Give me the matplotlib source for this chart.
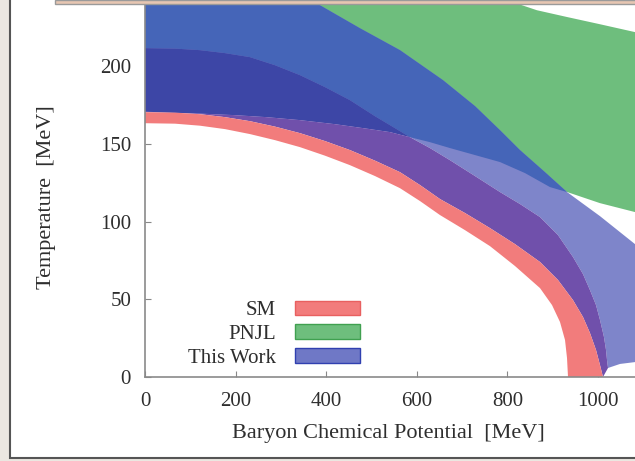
import matplotlib
matplotlib.use("Agg")
import matplotlib.pyplot as plt
from matplotlib.patches import Patch, Rectangle

# ---- data (mu in MeV, T in MeV) ----
# SM band
sm_up_mu = [0, 66.2, 121.4, 176.6, 231.8, 287.0, 342.2, 397.4, 452.5, 507.7, 562.9, 607.1,
            651.2, 706.4, 761.6, 816.8, 872.0, 911.7, 944.8, 966.9, 982.3, 995.6, 1004.4, 1011.0]
sm_up_T = [170.4, 170.1, 169.1, 167.2, 164.6, 161.1, 156.9, 151.8, 146.0, 139.2, 131.8, 123.5,
           114.5, 105.5, 95.8, 85.5, 74.0, 62.4, 49.5, 38.6, 28.3, 17.4, 7.7, 0]
sm_lo_mu = [0, 66.2, 121.4, 176.6, 231.8, 287.0, 342.2, 397.4, 452.5, 507.7, 562.9, 607.1,
            651.2, 706.4, 761.6, 816.8, 872.0, 898.5, 916.1, 927.2, 931.6, 933.8]
sm_lo_T = [163.3, 163.0, 161.7, 159.5, 156.3, 152.4, 147.9, 142.4, 136.3, 129.3, 121.5, 113.2,
           104.2, 94.5, 84.2, 71.4, 57.2, 46.3, 35.4, 23.8, 12.2, 0]

# PNJL band
pnjl_mu = [300, 600, 865, 932, 1004, 1082, 1100]
pnjl_lo = [200, 170, 126, 119, 111.9, 106.1, 105]
pnjl_hi = [290, 262, 236, 231.6, 227, 221.9, 220.7]

# This Work: upper edge of the whole band
tw_hi_mu = [0, 300, 386.3, 474.6, 562.9, 657.8, 728.5, 783.7, 827.8, 883.0, 931.6, 1004.4,
            1081.7, 1100]
tw_hi_T = [280, 250, 239.2, 224.4, 210.3, 191.0, 174.3, 158.8, 146.0, 131.8, 119.0, 103.5,
           85.5, 83.5]
# lower edge of the band (just above SM), then along the bottom
tw_lo_mu = [0, 121.4, 198.7, 269.3, 342.2, 419.4, 490.1, 540.8, 585.0, 629.1, 673.3, 728.5,
            783.7, 827.8, 872.0, 911.7, 944.8, 966.9, 982.3, 995.6, 1004.4, 1013.2, 1017.7,
            1019.9, 1022.1, 1048.6, 1081.7, 1100]
tw_lo_T = [170.7, 169.5, 168.5, 167.2, 165.3, 162.7, 159.8, 157.6, 154.3, 147.3, 139.5, 129.3,
           119.0, 111.3, 102.9, 91.3, 77.2, 66.2, 55.9, 46.3, 36.7, 25.7, 17.4,
           10.9, 5.8, 8.4, 9.6, 10]
# inner (overlapping) bands
tw_dark_top_mu = [0, 66.2, 121.4, 176.6, 231.8, 287.0, 342.2, 397.4, 452.5, 507.7, 551.9, 585.0]
tw_dark_top_T = [211.6, 211.3, 210.3, 208.4, 205.8, 200.6, 194.2, 186.5, 178.1, 167.8, 160.1, 154.3]
tw_mid_lo_mu = [585.0, 629.1, 673.3, 728.5, 783.7, 838.9, 894.0, 931.6]
tw_mid_lo_T = [154.3, 151.1, 147.3, 142.8, 138.3, 131.2, 122.2, 119.0]

x_ticks = [0, 200, 400, 600, 800, 1000]
y_ticks = [0, 50, 100, 150, 200]
labels = ["SM", "PNJL", "This Work"]

# colours
c_red = "#f27c7c"
c_green = "#6ebe7d"
c_lav = "#7e85ca"
c_mid = "#4565b8"
c_navy = "#3d46a6"
c_purple = "#7050ab"

W, H = 635, 461
fig = plt.figure(figsize=(W / 100, H / 100), dpi=100)
fig.patch.set_facecolor("#ebe7e1")

# slide frame
frame = Rectangle((10 / W, 3 / H), 1.0, 1.0, transform=fig.transFigure,
                  facecolor="white", edgecolor="#555555", lw=1.5, zorder=-5)
fig.patches.append(frame)

ax_l, ax_b = 145 / W, (H - 377) / H
ax_w, ax_h = 1100 * 0.453 / W, 373 / H
ax = fig.add_axes([ax_l, ax_b, ax_w, ax_h])
ax.set_facecolor("none")
ax.set_zorder(2)

# PNJL
ax.fill(pnjl_mu + pnjl_mu[::-1], pnjl_lo + pnjl_hi[::-1], color=c_green, lw=0, zorder=1)
# This Work (single layer)
ax.fill(tw_hi_mu + tw_lo_mu[::-1], tw_hi_T + tw_lo_T[::-1], color=c_lav, lw=0, zorder=2)
# medium overlap
mid_hi = [(m, t) for m, t in zip(tw_hi_mu, tw_hi_T) if m <= 932]
mid_lo_mu = tw_dark_top_mu + tw_mid_lo_mu[1:]
mid_lo_T = tw_dark_top_T + tw_mid_lo_T[1:]
ax.fill([m for m, t in mid_hi] + mid_lo_mu[::-1], [t for m, t in mid_hi] + mid_lo_T[::-1],
        color=c_mid, lw=0, zorder=3)
# dark overlap
lo_sel = [(m, t) for m, t in zip(tw_lo_mu, tw_lo_T) if m <= 585]
ax.fill(tw_dark_top_mu + [m for m, t in lo_sel][::-1],
        tw_dark_top_T + [t for m, t in lo_sel][::-1], color=c_navy, lw=0, zorder=4)
# purple (between SM top and This Work lower edge)
pl = [(m, t) for m, t in zip(tw_lo_mu, tw_lo_T) if m <= 1023]
ax.fill([m for m, t in pl] + sm_up_mu[::-1], [t for m, t in pl] + sm_up_T[::-1],
        color=c_purple, lw=0, zorder=5)
# SM
ax.fill(sm_up_mu + sm_lo_mu[::-1], sm_up_T + sm_lo_T[::-1], color=c_red, lw=0, zorder=6)

ax.set_xlim(0, 1100)
ax.set_ylim(0, 240)
ax.set_xticks(x_ticks)
ax.set_yticks(y_ticks)

fs = 15
font = dict(family="Liberation Serif", size=fs, color="#2e2e2e")
lfont = dict(family="Liberation Serif", size=16, color="#2e2e2e")
ax.set_xticklabels([str(v) for v in x_ticks], fontdict=font)
ax.set_yticklabels([str(v) for v in y_ticks], fontdict=font)
ax.tick_params(direction="in", length=4, color="#888888")
ax.tick_params(axis="x", pad=11)
ax.tick_params(axis="y", pad=10)
for s in ax.spines.values():
    s.set_color("#8a8a8a")
    s.set_linewidth(1.2)
    s.set_zorder(10)

ax.set_xlabel("Baryon Chemical Potential  [MeV]", fontdict=lfont)
ax.set_ylabel("Temperature  [MeV]", fontdict=lfont)
ax.xaxis.set_label_coords((388 - 145) / (1100 * 0.453), (377 - 424) / 373)
ax.yaxis.set_label_coords((56 - 145) / (1100 * 0.453), (377 - 197) / 373)

handles = [Patch(facecolor=c_red, edgecolor="#e86060"),
           Patch(facecolor=c_green, edgecolor="#40a050"),
           Patch(facecolor="#6f78c6", edgecolor="#3040b0")]
leg = ax.legend(handles, labels, loc="lower right",
                bbox_to_anchor=((360 - 145) / (1100 * 0.453), 0.025),
                frameon=False, markerfirst=False, handlelength=3.1, handleheight=0.7,
                labelspacing=0.2, handletextpad=0.95, borderpad=0, borderaxespad=0,
                prop={"family": "Liberation Serif", "size": fs})
for t in leg.get_texts():
    t.set_color("#2e2e2e")
    t.set_ha("right")
leg.set_zorder(12)

# strip at top (from the slide above)
strip = Rectangle((55 / W, 1 - 4 / H), 1.0, 4 / H, transform=fig.transFigure,
                  facecolor="#e7c6b2", edgecolor="#9a9a9a", lw=1.0, zorder=20)
fig.patches.append(strip)

fig.savefig("out.png", dpi=100)
